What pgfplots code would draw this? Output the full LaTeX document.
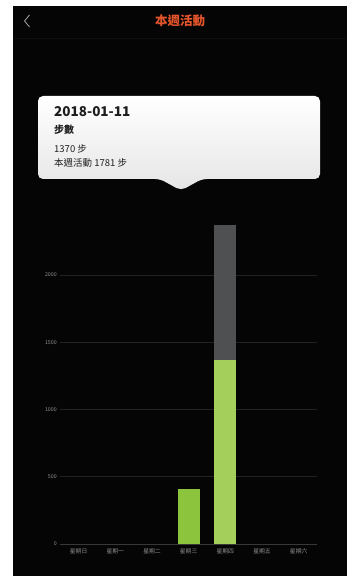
\documentclass[border=0pt]{standalone}
\usepackage{pgfplots}
\pgfplotsset{compat=1.18}
\usepackage{fontspec}
\setmainfont{Noto Sans CJK TC}
\definecolor{bg}{HTML}{050505}
\definecolor{greenA}{HTML}{8DC43E}
\definecolor{greenB}{HTML}{A3CF5A}
\definecolor{barGray}{HTML}{4E5052}
\definecolor{titleOrange}{HTML}{E2552C}
\definecolor{gridc}{HTML}{222222}
\definecolor{zeroc}{HTML}{383838}
\definecolor{tickc}{HTML}{8F8F8F}
\definecolor{tipText}{HTML}{1E1E1E}
\begin{document}
\begin{tikzpicture}[x=1pt,y=1pt]
\useasboundingbox (0,0) rectangle (352,576);
\fill[white] (0,0) rectangle (352,576);
\fill[bg] (13,0) rectangle (347,570);
\draw[color=black!94!white, line width=0.4pt] (13,538) -- (347,538);
\node[text=titleOrange, font=\fontsize{12.5}{14}\selectfont\bfseries] at (180,555) {本週活動};
\draw[color=gray!80, line width=0.9pt] (29.5,561) -- (24.5,555) -- (29.5,549);
\begin{axis}[
  at={(60.3pt,32pt)}, anchor=south west,
  scale only axis, width=256.7pt, height=322.8pt,
  xmin=-0.5, xmax=6.5, ymin=0, ymax=2400,
  axis line style={draw=none},
  major tick length=0pt,
  ytick={0,500,1000,1500,2000},
  xtick={0,1,2,3,4,5,6},
  xticklabels={星期日,星期一,星期二,星期三,星期四,星期五,星期六},
  ymajorgrids, grid style={gridc, line width=0.5pt},
  /pgf/number format/1000 sep={},
  /pgf/number format/assume math mode=true,
  yticklabel style={font=\fontsize{5.3}{6}\selectfont, text=tickc},
  xticklabel style={font=\fontsize{5.8}{6}\selectfont, text=tickc, yshift=-1.5pt},
  clip=false,
]
\draw[zeroc, line width=0.6pt] (axis cs:-0.5,0) -- (axis cs:6.5,0);
\addplot[ybar, bar width=22pt, bar shift=0pt, fill=barGray, draw=none] coordinates {(4,2370)};
\addplot[ybar, bar width=22pt, bar shift=0pt, fill=greenB, draw=none] coordinates {(4,1370)};
\addplot[ybar, bar width=22pt, bar shift=0pt, fill=greenA, draw=none] coordinates {(3,411)};
\end{axis}
\shade[top color=white, bottom color=black!10, rounded corners=5pt]
  (38,397) -- (38,480) -- (320,480) -- (320,397) -- (202,397) -- (181,385.5) -- (160,397) -- cycle;
\node[anchor=base west, inner sep=0pt, text=tipText, font=\fontsize{13.5}{14}\selectfont\bfseries] at (54,459) {2018-01-11};
\node[anchor=west, inner sep=0pt, text=tipText, font=\fontsize{10}{11}\selectfont\bfseries] at (54,446) {步數};
\node[anchor=west, inner sep=0pt, text=tipText, font=\fontsize{9.5}{11}\selectfont] at (54,427) {1370 步};
\node[anchor=west, inner sep=0pt, text=tipText, font=\fontsize{9.5}{11}\selectfont] at (54,413) {本週活動 1781 步};
\end{tikzpicture}
\end{document}
